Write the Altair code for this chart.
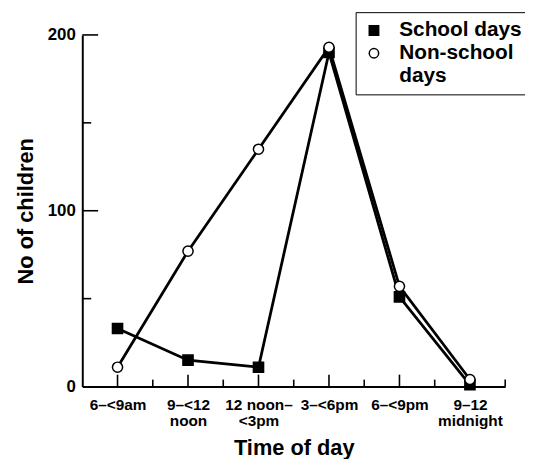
import json
import altair as alt
import pandas as pd

# ---- data ----
categories = ["6–<9am", "9–<12 noon", "12 noon–<3pm", "3–<6pm", "6–<9pm", "9–12 midnight"]
tick_label_lines = [["6–<9am"], ["9–<12", "noon"], ["12 noon–", "<3pm"],
                    ["3–<6pm"], ["6–<9pm"], ["9–12", "midnight"]]
school_days = [33, 15, 11, 190, 51, 1]
non_school_days = [11, 77, 135, 193, 57, 4]
series_names = ["School days", "Non-school days"]
legend_rows = ["School days", "Non-school days", "days"]
y_major = [100, 200]
y_minor = [50, 150]
y_labels = [0, 100, 200]

n = len(categories)
x_major = list(range(n))
x_minor = [i + 0.5 for i in range(n)]

rows = []
for name, vals in zip(series_names, [school_days, non_school_days]):
    for i, (c, v) in enumerate(zip(categories, vals)):
        rows.append({"idx": i, "category": c, "series": name, "value": v})
df = pd.DataFrame(rows)

W, H = 427, 355
FONT = "Liberation Sans"

x_scale = alt.Scale(domain=[-0.5, n - 0.5], nice=False, zero=False)
y_scale = alt.Scale(domain=[0, 200], nice=False)

label_expr = json.dumps(tick_label_lines, ensure_ascii=False) + "[datum.value]"

x_axis = alt.Axis(values=x_major, labelExpr=label_expr, ticks=False, grid=False,
                  domainColor="black", domainWidth=2,
                  labelFont=FONT, labelFontSize=15.5, labelFontWeight="bold",
                  labelColor="black", labelPadding=11, labelLineHeight=16,
                  labelOverlap=False, labelFlush=False, labelBound=False,
                  title="Time of day", titleFont=FONT, titleFontSize=22,
                  titleFontWeight="bold", titleColor="black", titlePadding=9)
y_axis = alt.Axis(values=y_labels, ticks=False, grid=False,
                  domainColor="black", domainWidth=2,
                  labelFont=FONT, labelFontSize=17, labelFontWeight="bold",
                  labelColor="black", labelPadding=7,
                  title="No of children", titleFont=FONT, titleFontSize=22,
                  titleFontWeight="bold", titleColor="black", titlePadding=10)


def X():
    return alt.X("idx:Q", scale=x_scale, axis=x_axis)


def Y():
    return alt.Y("value:Q", scale=y_scale, axis=y_axis)


xt_major = alt.Chart(pd.DataFrame({"idx": x_major})).mark_rule(
    color="black", strokeWidth=1.6).encode(x=X(), y=alt.value(H), y2=alt.value(H - 12))
xt_minor = alt.Chart(pd.DataFrame({"idx": x_minor})).mark_rule(
    color="black", strokeWidth=1.6).encode(x=X(), y=alt.value(H), y2=alt.value(H - 7))
yt_major = alt.Chart(pd.DataFrame({"value": y_major})).mark_rule(
    color="black", strokeWidth=1.6).encode(y=Y(), x=alt.value(0), x2=alt.value(16))
yt_minor = alt.Chart(pd.DataFrame({"value": y_minor})).mark_rule(
    color="black", strokeWidth=1.6).encode(y=Y(), x=alt.value(0), x2=alt.value(9))

lines = alt.Chart(df).mark_line(color="black", strokeWidth=2.8).encode(
    x=X(), y=Y(), detail="series:N")

leg = alt.Legend(title=None, symbolStrokeWidth=1.5,
                 labelExpr="datum.label == 'Non-school days' ? 'Non-school' : datum.label")
shape_scale = alt.Scale(domain=legend_rows, range=["square", "circle", "M0,0"])
fill_scale = alt.Scale(domain=legend_rows, range=["black", "white", "white"])
stroke_scale = alt.Scale(domain=legend_rows, range=["black", "black", "white"])

points = alt.Chart(df).mark_point(filled=True, size=105,
                                  strokeWidth=1.5, opacity=1).encode(
    x=X(), y=Y(),
    shape=alt.Shape("series:N", scale=shape_scale, legend=leg),
    fill=alt.Fill("series:N", scale=fill_scale, legend=leg),
    stroke=alt.Stroke("series:N", scale=stroke_scale, legend=leg),
)

chart = alt.layer(xt_major, xt_minor, yt_major, yt_minor, lines, points).properties(
    width=W, height=H,
    autosize=alt.AutoSizeParams(type="none"),
    padding={"left": 75, "top": 25, "right": 20, "bottom": 76},
).configure(font=FONT).configure_view(stroke=None).configure_legend(
    orient="none", legendX=276, legendY=-23,
    strokeColor="black", fillColor="white", padding=8,
    labelFont=FONT, labelFontSize=21, labelFontWeight="bold",
    labelColor="black", labelLimit=300,
    symbolSize=90, symbolStrokeWidth=1.5,
    rowPadding=1, labelOffset=15,
)

chart.save("out.html", embed_options={"renderer": "svg", "actions": False})
